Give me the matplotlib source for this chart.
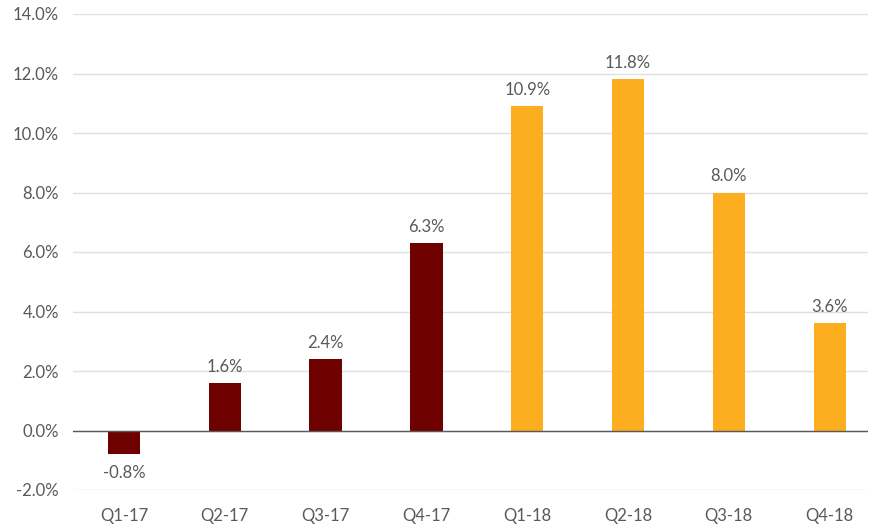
import matplotlib
matplotlib.use("Agg")
import matplotlib.pyplot as plt
from matplotlib.ticker import FuncFormatter, MultipleLocator

categories = ["Q1-17", "Q2-17", "Q3-17", "Q4-17", "Q1-18", "Q2-18", "Q3-18", "Q4-18"]
values = [-0.8, 1.6, 2.4, 6.3, 10.9, 11.8, 8.0, 3.6]
colors = ["#6E0000"] * 4 + ["#FDAE1E"] * 4

plt.rcParams['font.family'] = ['Lato', 'DejaVu Sans']
txt = "#595959"
fs = 12

fig = plt.figure(figsize=(8.7, 5.31), dpi=100)
ax = fig.add_axes([73/870, 1 - 490/531, (868-73)/870, (490-14)/531])

x = list(range(len(categories)))
ax.bar(x, values, width=0.32, color=colors, zorder=3)

ax.set_ylim(-2, 14)
ax.set_xlim(-0.505, 7.38)
ax.yaxis.set_major_locator(MultipleLocator(2))
ax.yaxis.set_major_formatter(FuncFormatter(lambda v, p: f"{v:.1f}%"))
ax.grid(axis='y', color="#E0E0E0", linewidth=1, zorder=0)
ax.axhline(0, color="#595959", linewidth=1, zorder=4)
for s in ax.spines.values():
    s.set_visible(False)
ax.tick_params(axis='both', length=0, labelsize=fs, labelcolor=txt)
ax.tick_params(axis='y', pad=10)
ax.tick_params(axis='x', pad=13)
ax.set_xticks(x)
ax.set_xticklabels(categories)

for xi, v in zip(x, values):
    if v >= 0:
        ax.annotate(f"{v:.1f}%", (xi, v), xytext=(0, 6), textcoords="offset points",
                    ha='center', va='bottom', fontsize=fs, color=txt)
    else:
        ax.annotate(f"{v:.1f}%", (xi, v), xytext=(0, -8), textcoords="offset points",
                    ha='center', va='top', fontsize=fs, color=txt)

fig.savefig("out.png", dpi=100)
